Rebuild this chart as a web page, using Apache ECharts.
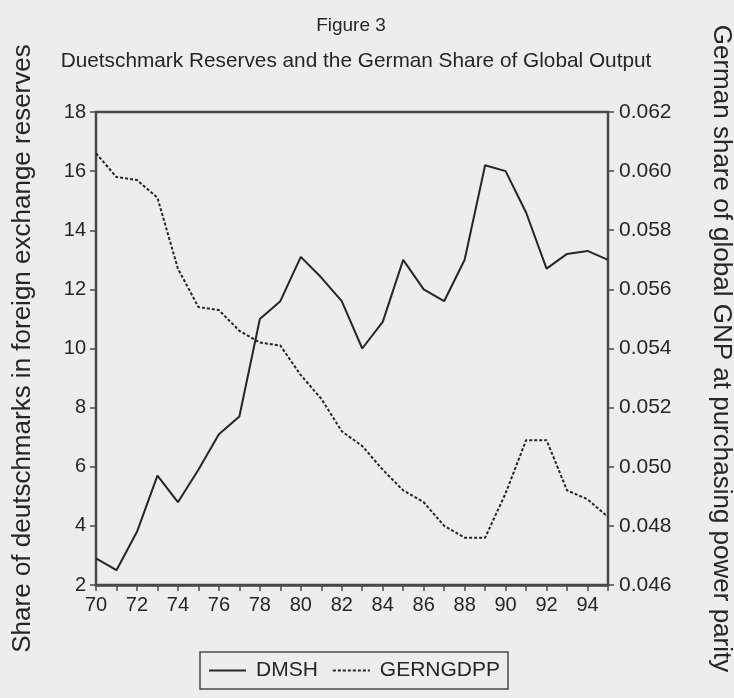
<!DOCTYPE html>
<html>
<head>
<meta charset="utf-8">
<script src="https://cdn.jsdelivr.net/npm/echarts@6/dist/echarts.min.js"></script>
<style>
  html, body { margin: 0; padding: 0; background: #ededed; }
  #main { width: 734px; height: 698px; }
</style>
</head>
<body>
<div id="main"></div>
<script>
const years = ['70','71','72','73','74','75','76','77','78','79','80','81','82',
  '83','84','85','86','87','88','89','90','91','92','93','94','95'];
// share of deutschmarks in foreign exchange reserves (left axis)
const dmsh = [2.9, 2.5, 3.8, 5.7, 4.8, 5.9, 7.1, 7.7, 11.0, 11.6, 13.1, 12.4, 11.6,
  10.0, 10.9, 13.0, 12.0, 11.6, 13.0, 16.2, 16.0, 14.6, 12.7, 13.2, 13.3, 13.0];
// german share of global GNP at PPP (right axis)
const gerngdpp = [0.0606, 0.0598, 0.0597, 0.0591, 0.0567, 0.0554, 0.0553, 0.0546, 0.0542, 0.0541,
  0.0531, 0.0523, 0.0512, 0.0507, 0.0499, 0.0492, 0.0488, 0.0480, 0.0476, 0.0476,
  0.0491, 0.0509, 0.0509, 0.0492, 0.0489, 0.0483];

const ink = '#262626';
const axisCol = '#4a4a4a';
const font = '"Liberation Sans", Arial, sans-serif';

const chart = echarts.init(document.getElementById('main'));
chart.setOption({
  backgroundColor: '#ededed',
  animation: false,
  textStyle: { fontFamily: font, color: ink },
  title: [
    {
      text: 'Figure 3',
      left: 346, top: 11, textAlign: 'center',
      textStyle: { fontSize: 19, fontWeight: 'normal', color: ink, fontFamily: font }
    },
    {
      text: 'Duetschmark Reserves and the German Share of Global Output',
      left: 351, top: 46, textAlign: 'center',
      textStyle: { fontSize: 20.8, fontWeight: 'normal', color: ink, fontFamily: font }
    }
  ],
  grid: {
    left: 96, right: 126, top: 112, bottom: 113,
    outerBoundsMode: 'none',
    show: true, borderColor: axisCol, borderWidth: 2.5, backgroundColor: 'transparent'
  },
  legend: {
    bottom: 9, left: 200,
    data: ['DMSH', 'GERNGDPP'],
    borderColor: axisCol, borderWidth: 1.5, padding: [8, 8],
    itemWidth: 37, itemHeight: 10, itemGap: 14,
    itemStyle: { opacity: 0 },
    textStyle: { fontSize: 21, color: ink, fontFamily: font, padding: [0, 0, 0, 5] }
  },
  xAxis: {
    type: 'category',
    data: years,
    boundaryGap: false,
    axisLine: { lineStyle: { color: axisCol, width: 2.5 } },
    axisTick: { interval: 0, length: 6, lineStyle: { color: axisCol, width: 1.5 } },
    axisLabel: { interval: 1, fontSize: 20, color: ink, margin: 10, fontFamily: font },
    splitLine: { show: false }
  },
  yAxis: [
    {
      type: 'value', min: 2, max: 18, interval: 2,
      name: 'Share of deutschmarks in foreign exchange reserves',
      nameLocation: 'middle', nameGap: 60, nameRotate: 90,
      nameTextStyle: { fontSize: 26, color: ink, fontFamily: font },
      axisLine: { show: true, lineStyle: { color: axisCol, width: 2 } },
      axisTick: { show: true, length: 6, lineStyle: { color: axisCol, width: 1.5 } },
      axisLabel: { fontSize: 20, color: ink, margin: 10, fontFamily: font },
      splitLine: { show: false }
    },
    {
      type: 'value', min: 0.046, max: 0.062, interval: 0.002,
      name: 'German share of global GNP at purchasing power parity',
      nameLocation: 'middle', nameGap: 100, nameRotate: -90,
      nameTextStyle: { fontSize: 26, color: ink, fontFamily: font },
      axisLine: { show: true, lineStyle: { color: axisCol, width: 2 } },
      axisTick: { show: true, length: 6, lineStyle: { color: axisCol, width: 1.5 } },
      axisLabel: { fontSize: 21, color: ink, margin: 11, fontFamily: font,
        formatter: v => v.toFixed(3) },
      splitLine: { show: false }
    }
  ],
  series: [
    {
      name: 'DMSH', type: 'line', data: dmsh, yAxisIndex: 0,
      symbol: 'none', color: ink,
      lineStyle: { color: ink, width: 2 }
    },
    {
      name: 'GERNGDPP', type: 'line', data: gerngdpp, yAxisIndex: 1,
      symbol: 'none', color: ink,
      lineStyle: { color: ink, width: 2, type: [3, 2] }
    }
  ]
});
</script>
</body>
</html>
